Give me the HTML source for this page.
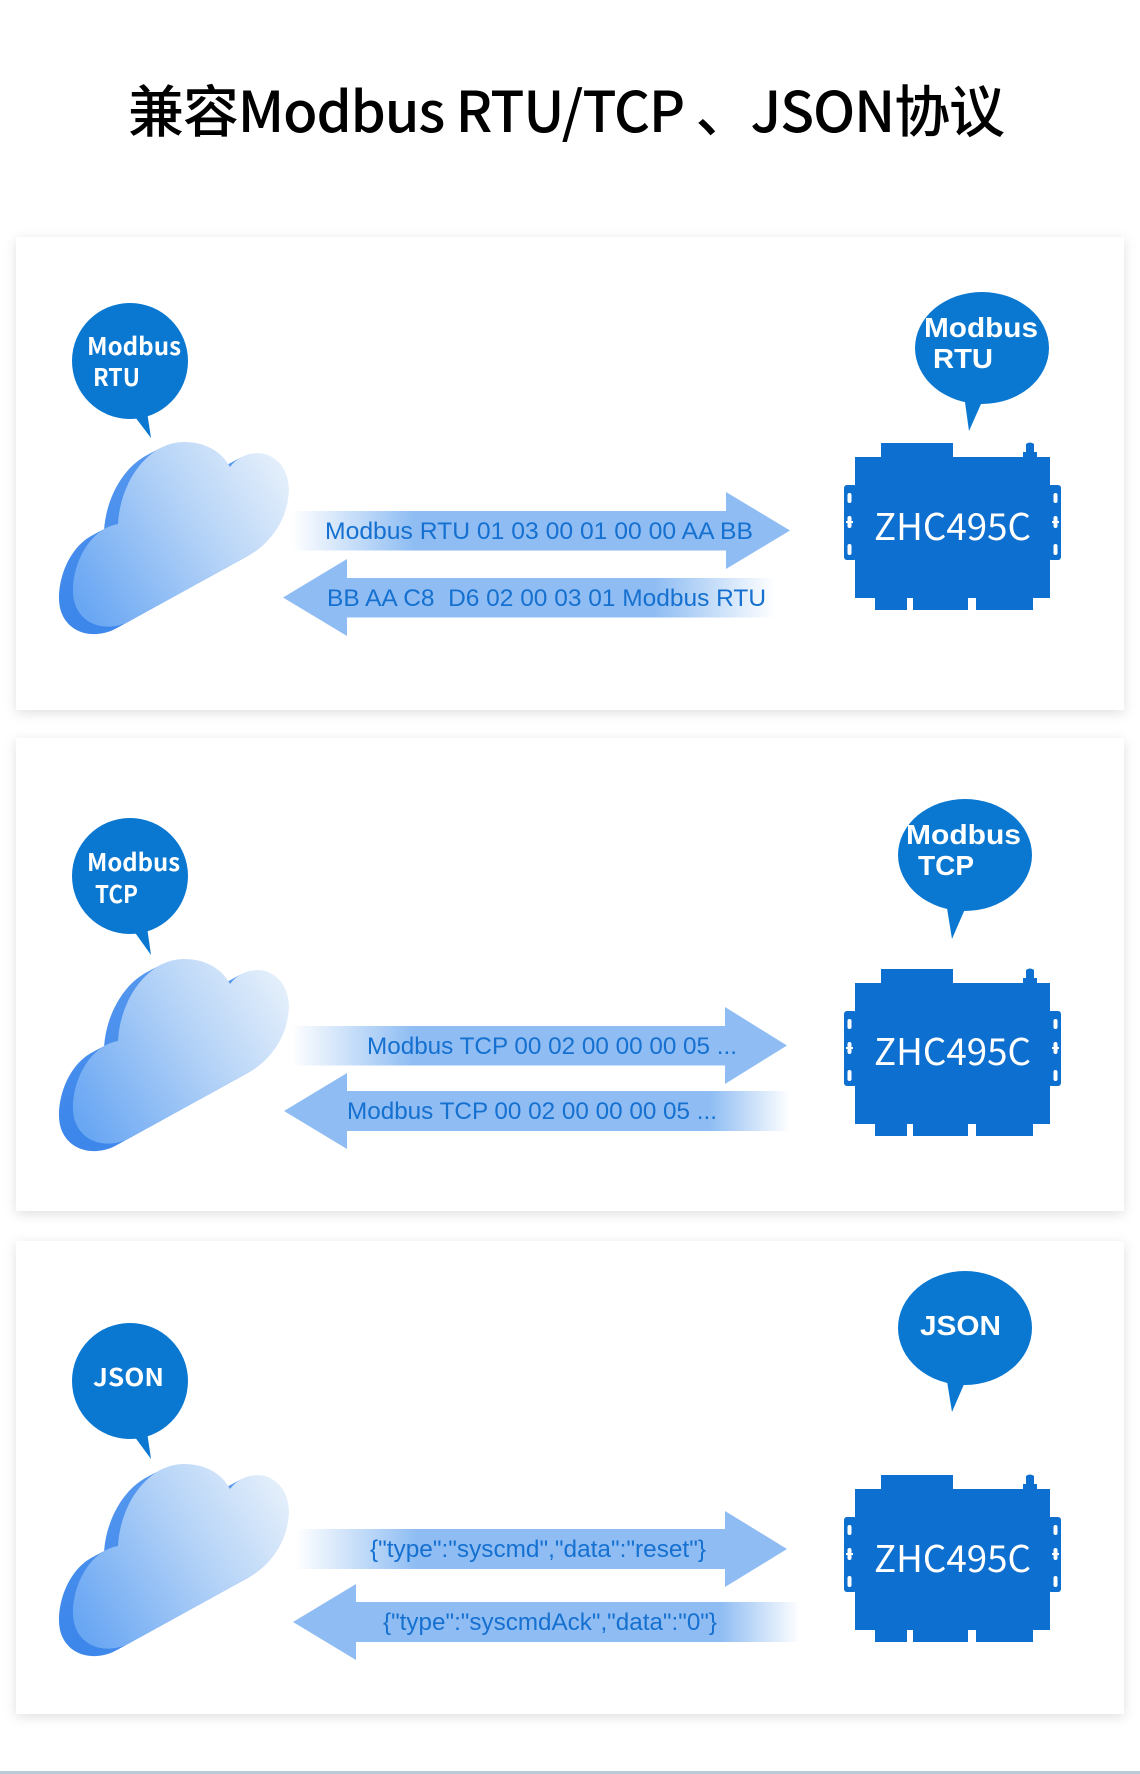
<!DOCTYPE html>
<html><head><meta charset="utf-8"><style>
html,body{margin:0;padding:0;background:#fff;}
svg{display:block;}
.at{font-family:"Liberation Sans",Arial,sans-serif;font-size:24px;fill:#1570d0;white-space:pre;}
.lb{font-family:"Noto Sans CJK SC","Liberation Sans",sans-serif;font-weight:700;font-size:24px;fill:#fff;}
.rb{font-family:"Liberation Sans",Arial,sans-serif;font-weight:700;font-size:28px;fill:#fff;}
.dv{font-family:"Noto Sans CJK SC","Liberation Sans",sans-serif;font-size:37px;fill:#fff;}
</style></head><body>
<svg width="1140" height="1774" viewBox="0 0 1140 1774" xmlns="http://www.w3.org/2000/svg">
<defs>
 <filter id="sh" x="-5%" y="-10%" width="110%" height="125%">
  <feDropShadow dx="0" dy="3" stdDeviation="6" flood-color="#000" flood-opacity="0.12"/>
 </filter>
 <linearGradient id="face" gradientUnits="userSpaceOnUse" x1="80" y1="600" x2="290" y2="470">
  <stop offset="0" stop-color="#6aa7f3"/><stop offset="0.55" stop-color="#b3d2f7"/><stop offset="1" stop-color="#e6f0fb"/>
 </linearGradient>
 <linearGradient id="side" gradientUnits="userSpaceOnUse" x1="60" y1="620" x2="200" y2="440">
  <stop offset="0" stop-color="#3b85ea"/><stop offset="1" stop-color="#5a9bf0"/>
 </linearGradient>
 <linearGradient id="gR"><stop offset="0" stop-color="#8fbdf3" stop-opacity="0"/><stop offset="0.28" stop-color="#8fbdf3" stop-opacity="1"/><stop offset="1" stop-color="#8fbdf3"/></linearGradient>
 <linearGradient id="gL1"><stop offset="0" stop-color="#8fbdf3"/><stop offset="0.72" stop-color="#8fbdf3" stop-opacity="1"/><stop offset="1" stop-color="#8fbdf3" stop-opacity="0"/></linearGradient>
 <linearGradient id="gL2"><stop offset="0" stop-color="#8fbdf3"/><stop offset="0.82" stop-color="#8fbdf3" stop-opacity="1"/><stop offset="1" stop-color="#8fbdf3" stop-opacity="0"/></linearGradient>
 <path id="cl" d="M126 623 C98 634 73 619 73 591 C73 560 92 528 118 524 C120 482 148 442 184 442 C206 442 222 452 230 467 C238 456 252 451 265 454 C282 459 292 477 288 499 C285 522 270 542 253 553 Z"/>
 <g id="cloud">
  <use href="#cl" fill="url(#side)" transform="translate(-14,7.5)"/>
  <use href="#cl" fill="url(#side)" transform="translate(-11.5,6.2)"/>
  <use href="#cl" fill="url(#side)" transform="translate(-9,4.8)"/>
  <use href="#cl" fill="url(#side)" transform="translate(-6,3.2)"/>
  <use href="#cl" fill="url(#side)" transform="translate(-3,1.6)"/>
  <use href="#cl" fill="url(#face)"/>
 </g>
 <g id="dev">
  <rect x="-11" y="42" width="13" height="75" rx="3" fill="#0d6fcf"/>
  <rect x="193" y="42" width="13" height="75" rx="3" fill="#0d6fcf"/>
  <path fill="#0d6fcf" d="M0 14 H26 V0 H98 V14 H168 V9 H171 V1 Q175 -2 179 1 V9 H182 V14 H195 V155 H178 V167 H121 V155 H113 V167 H58 V155 H52 V167 H20 V155 H0 Z"/>
  <rect x="-7.5" y="50" width="4" height="10" rx="2" fill="#fff"/>
  <rect x="-7.5" y="73" width="4" height="12" rx="2" fill="#fff"/>
  <rect x="-9" y="78" width="7" height="2" fill="#fff"/>
  <rect x="-7.5" y="101" width="4" height="11" rx="2" fill="#fff"/>
  <rect x="198.5" y="50" width="4" height="10" rx="2" fill="#fff"/>
  <rect x="198.5" y="73" width="4" height="12" rx="2" fill="#fff"/>
  <rect x="197" y="78" width="7" height="2" fill="#fff"/>
  <rect x="198.5" y="101" width="4" height="11" rx="2" fill="#fff"/>
 </g>
</defs>

<rect x="0" y="0" width="1140" height="1774" fill="#fff"/>

<!-- Title -->
<text x="128" y="132" textLength="877" lengthAdjust="spacing" font-family="'Noto Sans CJK SC','Liberation Sans',sans-serif" font-size="56" font-weight="500" fill="#000">兼容Modbus RTU/TCP 、JSON协议</text>

<!-- Panels -->
<rect x="16" y="237" width="1108" height="473" fill="#fff" filter="url(#sh)"/>
<rect x="16" y="738" width="1108" height="473" fill="#fff" filter="url(#sh)"/>
<rect x="16" y="1241" width="1108" height="473" fill="#fff" filter="url(#sh)"/>

<!-- ===== Panel 1 ===== -->
<circle cx="130" cy="361" r="58" fill="#0a78d1"/>
<polygon points="126,405 151,438 146,405" fill="#0a78d1"/>
<text class="lb" x="87" y="355" textLength="94" lengthAdjust="spacingAndGlyphs">Modbus</text>
<text class="lb" x="93" y="386" textLength="47" lengthAdjust="spacingAndGlyphs">RTU</text>
<use href="#cloud"/>

<rect x="292" y="511" width="434" height="39.5" fill="url(#gR)"/>
<polygon points="726,492 790,530.5 726,569" fill="#8fbdf3"/>
<text class="at" x="325" y="539" textLength="428" lengthAdjust="spacingAndGlyphs">Modbus RTU 01 03 00 01 00 00 AA BB</text>

<polygon points="347,559 283,597.5 347,636" fill="#8fbdf3"/>
<rect x="347" y="578" width="428" height="39.5" fill="url(#gL1)"/>
<text class="at" x="327" y="606" textLength="439" lengthAdjust="spacingAndGlyphs">BB AA C8  D6 02 00 03 01 Modbus RTU</text>

<ellipse cx="982" cy="348" rx="67" ry="56" fill="#0a78d1"/>
<polygon points="964,395 969,431 985,395" fill="#0a78d1"/>
<text class="rb" x="924" y="337" textLength="114" lengthAdjust="spacingAndGlyphs">Modbus</text>
<text class="rb" x="933" y="368" textLength="60" lengthAdjust="spacingAndGlyphs">RTU</text>

<use href="#dev" x="855" y="443"/>
<text class="dv" x="874" y="540" textLength="157" lengthAdjust="spacingAndGlyphs">ZHC495C</text>

<!-- ===== Panel 2 ===== -->
<circle cx="130" cy="876" r="58" fill="#0a78d1"/>
<polygon points="126,920 151,955 146,920" fill="#0a78d1"/>
<text class="lb" x="87" y="871" textLength="93" lengthAdjust="spacingAndGlyphs">Modbus</text>
<text class="lb" x="95" y="903" textLength="43" lengthAdjust="spacingAndGlyphs">TCP</text>
<use href="#cloud" transform="translate(0,517)"/>

<rect x="291" y="1026" width="434" height="39.5" fill="url(#gR)"/>
<polygon points="725,1007 787,1045.5 725,1084" fill="#8fbdf3"/>
<text class="at" x="367" y="1054" textLength="370" lengthAdjust="spacingAndGlyphs">Modbus TCP 00 02 00 00 00 05 ...</text>

<polygon points="347,1073 284,1111 347,1149" fill="#8fbdf3"/>
<rect x="347" y="1091" width="443" height="40" fill="url(#gL2)"/>
<text class="at" x="347" y="1119" textLength="370" lengthAdjust="spacingAndGlyphs">Modbus TCP 00 02 00 00 00 05 ...</text>

<ellipse cx="965" cy="855" rx="67" ry="56" fill="#0a78d1"/>
<polygon points="946,902 952,939 968,902" fill="#0a78d1"/>
<text class="rb" x="906" y="844" textLength="115" lengthAdjust="spacingAndGlyphs">Modbus</text>
<text class="rb" x="918" y="875" textLength="56" lengthAdjust="spacingAndGlyphs">TCP</text>

<use href="#dev" x="855" y="969"/>
<text class="dv" x="874" y="1065" textLength="157" lengthAdjust="spacingAndGlyphs">ZHC495C</text>

<!-- ===== Panel 3 ===== -->
<circle cx="130" cy="1381" r="58" fill="#0a78d1"/>
<polygon points="126,1425 151,1459 146,1425" fill="#0a78d1"/>
<text class="lb" x="93" y="1386" textLength="71" lengthAdjust="spacingAndGlyphs">JSON</text>
<use href="#cloud" transform="translate(0,1022)"/>

<rect x="296" y="1529" width="429" height="40" fill="url(#gR)"/>
<polygon points="725,1511 787,1549 725,1587" fill="#8fbdf3"/>
<text class="at" x="370" y="1557" textLength="336" lengthAdjust="spacingAndGlyphs">{"type":"syscmd","data":"reset"}</text>

<polygon points="356,1584 293,1622 356,1660" fill="#8fbdf3"/>
<rect x="356" y="1602" width="444" height="40" fill="url(#gL2)"/>
<text class="at" x="383" y="1630" textLength="334" lengthAdjust="spacingAndGlyphs">{"type":"syscmdAck","data":"0"}</text>

<ellipse cx="965" cy="1328" rx="67" ry="57" fill="#0a78d1"/>
<polygon points="946,1375 952,1412 968,1375" fill="#0a78d1"/>
<text class="rb" x="920" y="1335" textLength="81" lengthAdjust="spacingAndGlyphs">JSON</text>

<use href="#dev" x="855" y="1475"/>
<text class="dv" x="874" y="1572" textLength="157" lengthAdjust="spacingAndGlyphs">ZHC495C</text>

<!-- bottom line -->
<rect x="0" y="1771" width="1140" height="3" fill="#b9cbd9"/>
</svg>
</body></html>
